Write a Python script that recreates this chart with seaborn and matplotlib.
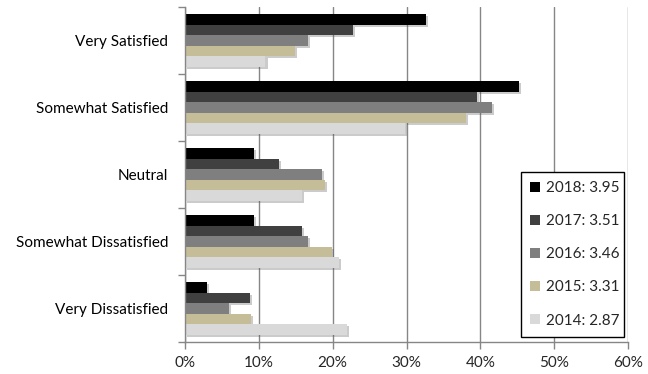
import matplotlib
matplotlib.use("Agg")
import matplotlib.pyplot as plt
import matplotlib.patheffects as pe
from matplotlib.ticker import FixedLocator, PercentFormatter
import numpy as np
import pandas as pd
import seaborn as sns

categories = ["Very Satisfied", "Somewhat Satisfied", "Neutral",
              "Somewhat Dissatisfied", "Very Dissatisfied"]
years = ["2018: 3.95", "2017: 3.51", "2016: 3.46", "2015: 3.31", "2014: 2.87"]
v2018 = [32.6, 45.2, 9.3, 9.3, 3.0]
v2017 = [22.7, 39.5, 12.7, 15.8, 8.8]
v2016 = [16.7, 41.6, 18.5, 16.7, 6.0]
v2015 = [14.9, 38.0, 18.9, 19.9, 8.9]
v2014 = [10.9, 29.8, 15.9, 20.8, 21.9]
colors = ["#000000", "#404040", "#7f7f7f", "#c4bd97", "#d9d9d9"]
x_ticks = [0, 10, 20, 30, 40, 50, 60]

series = [v2018, v2017, v2016, v2015, v2014]
df = pd.DataFrame({
    "category": np.repeat([categories], len(years), axis=0).ravel(),
    "year": np.repeat(years, len(categories)),
    "pct": np.concatenate(series),
})

sns.set_style("white")
plt.rcParams["font.family"] = ["Lato", "DejaVu Sans"]

fig = plt.figure(figsize=(6.48, 3.74), dpi=100)
ax = fig.add_axes([185 / 648, 1 - 342 / 374, (628 - 185) / 648, (342 - 7) / 374])

sns.barplot(data=df, y="category", x="pct", hue="year", order=categories,
            hue_order=years, palette=colors, orient="h", width=0.78,
            saturation=1, ax=ax, legend=False, errorbar=None)

shadow = [pe.SimplePatchShadow(offset=(1.5, -1.5), shadow_rgbFace="#555555", alpha=0.3),
          pe.Normal()]
for p in ax.patches:
    p.set_linewidth(0)
    p.set_path_effects(shadow)

ax.set_xlim(0, 60)
ax.set_ylim(len(categories) - 0.5, -0.5)
ax.xaxis.set_major_locator(FixedLocator(x_ticks))
ax.xaxis.set_major_formatter(PercentFormatter(decimals=0))
ax.set_xlabel("")
ax.set_ylabel("")

ax.grid(axis="x", color="#868686", linewidth=1.0)
ax.set_axisbelow(True)
for s in ["top", "right"]:
    ax.spines[s].set_visible(False)
for s in ["left", "bottom"]:
    ax.spines[s].set_color("#868686")
    ax.spines[s].set_linewidth(1.0)

ax.yaxis.set_minor_locator(FixedLocator(np.arange(len(categories) + 1) - 0.5))
ax.tick_params(axis="y", which="major", length=0, pad=12, labelsize=11, labelcolor="#000000")
ax.tick_params(axis="y", which="minor", length=5, width=1, color="#868686", direction="out", left=True)
ax.tick_params(axis="x", which="major", length=5, width=1, color="#868686", direction="out",
               bottom=True, labelsize=11, pad=5)

# plain square swatches for the legend (no shadow)
handles = [matplotlib.patches.Patch(facecolor=c, edgecolor="none") for c in colors]
ax.legend(handles, years, loc="upper left",
          bbox_to_anchor=(521 / 648, 37 / 374, (624 - 521) / 648, (337 - 172) / 374),
          bbox_transform=fig.transFigure, mode="expand",
          frameon=True, fancybox=False, edgecolor="#000000", framealpha=1,
          fontsize=11, handlelength=0.65, handleheight=0.65, handletextpad=0.4,
          labelspacing=1.25, borderpad=0.6, borderaxespad=0)
ax.get_legend().get_frame().set_linewidth(1.0)

fig.savefig("out.png", dpi=100)
